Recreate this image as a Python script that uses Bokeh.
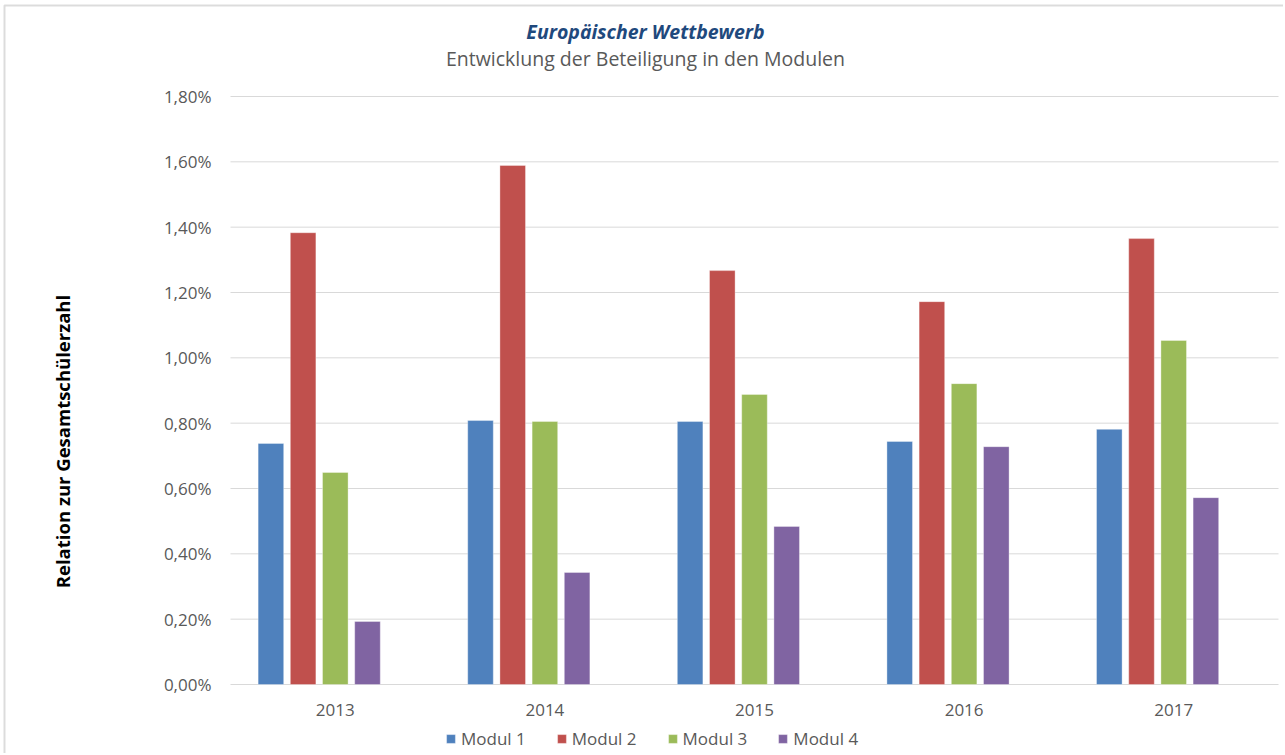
import math
from bokeh.plotting import figure
from bokeh.models import ColumnDataSource, Range1d, Label, Legend, LegendItem, BoxAnnotation
from bokeh.core.properties import value
from bokeh.transform import dodge
from bokeh.embed import file_html
from bokeh.resources import INLINE

years = ["2013", "2014", "2015", "2016", "2017"]
modul_1 = [0.738, 0.808, 0.805, 0.744, 0.781]
modul_2 = [1.383, 1.589, 1.267, 1.172, 1.365]
modul_3 = [0.649, 0.805, 0.888, 0.921, 1.053]
modul_4 = [0.193, 0.343, 0.484, 0.728, 0.572]
series_names = ["Modul 1", "Modul 2", "Modul 3", "Modul 4"]
y_ticks = [0.0, 0.2, 0.4, 0.6, 0.8, 1.0, 1.2, 1.4, 1.6, 1.8]
y_tick_labels = ["0,00%", "0,20%", "0,40%", "0,60%", "0,80%", "1,00%", "1,20%", "1,40%", "1,60%", "1,80%"]

colors = ["#4F81BD", "#C0504D", "#9BBB59", "#8064A2"]
FONT = "Open Sans"
GRAY = "#595959"
GRID = "#D9D9D9"

# ---- layout (pixels) ----
W, H = 1283, 753
PLOT_LEFT, PLOT_RIGHT = 230, 1278      # plot area inside canvas
PLOT_TOP, PLOT_BOTTOM = 96, 684
Y_MAX = 1.8
px_x = (PLOT_RIGHT - PLOT_LEFT) / len(years)
px_y = (PLOT_BOTTOM - PLOT_TOP) / Y_MAX
x_start = -0.5 - PLOT_LEFT / px_x
x_end = len(years) - 0.5 + (W - PLOT_RIGHT) / px_x
y_end = Y_MAX + PLOT_TOP / px_y
y_start = -(H - PLOT_BOTTOM) / px_y

idx = list(range(len(years)))
src = ColumnDataSource(dict(idx=idx, year=years, m1=modul_1, m2=modul_2, m3=modul_3, m4=modul_4))

p = figure(width=W, height=H, x_range=Range1d(x_start, x_end), y_range=Range1d(y_start, y_end),
           output_backend="svg", toolbar_location=None,
           min_border_left=0, min_border_right=0, min_border_top=0, min_border_bottom=0)
p.xaxis.visible = False
p.yaxis.visible = False
p.grid.visible = False
p.outline_line_color = None
p.background_fill_color = "white"
p.border_fill_color = "white"

# chart frame (top and left edges visible, the rest runs off the picture)
p.add_layout(BoxAnnotation(left=x_start + 4 / px_x, right=x_end + 1,
                           top=y_end - 5 / px_y, bottom=y_start - 1,
                           fill_alpha=0, line_color="#8c8c8c", line_width=2))

# grid lines
p.segment(x0=[-0.5] * len(y_ticks), x1=[len(years) - 0.5] * len(y_ticks), y0=y_ticks, y1=y_ticks,
          line_color=GRID, line_width=1)

# bars (5 slots per category in the original; the 5th is empty)
pitch = 0.1536
width = 0.122
renderers = []
for i, (col, c) in enumerate(zip(["m1", "m2", "m3", "m4"], colors)):
    r = p.vbar(x=dodge("idx", (i - 2) * pitch), top=col, bottom=0, width=width,
               source=src, fill_color=c, line_color="white", line_alpha=0.35, line_width=1)
    renderers.append(r)

# y tick labels
p.text(x=[-0.5] * len(y_ticks), y=y_ticks, text=y_tick_labels, x_offset=-19, y_offset=0,
       text_align="right", text_baseline="middle", text_font=value(FONT),
       text_font_size="17px", text_color=GRAY)
# x tick labels
p.text(x=idx, y=[0] * len(years), text=years, y_offset=25,
       text_align="center", text_baseline="alphabetic", text_font=value(FONT),
       text_font_size="17px", text_color=GRAY)

# titles (screen units: origin bottom-left of the canvas)
p.add_layout(Label(x=645, y=H - 31, x_units="screen", y_units="screen",
                   text="Europäischer Wettbewerb", text_font=FONT, text_font_style="bold italic",
                   text_font_size="19.5px", text_color="#1F497D", text_align="center",
                   text_baseline="alphabetic"))
p.add_layout(Label(x=645, y=H - 58, x_units="screen", y_units="screen",
                   text="Entwicklung der Beteiligung in den Modulen", text_font=FONT,
                   text_font_size="19.5px", text_color=GRAY, text_align="center",
                   text_baseline="alphabetic"))
p.add_layout(Label(x=62, y=H - 441, x_units="screen", y_units="screen",
                   text="Relation zur Gesamtschülerzahl", text_font=FONT, text_font_style="bold",
                   text_font_size="18.5px", text_color="black", text_align="center",
                   text_baseline="middle", angle=math.pi / 2))

legend = Legend(items=[LegendItem(label=n, renderers=[r]) for n, r in zip(series_names, renderers)],
                orientation="horizontal", location=(445, 3),
                label_text_font=FONT, label_text_font_size="17px", label_text_color=GRAY,
                glyph_width=11, glyph_height=11, label_standoff=5, spacing=30,
                padding=0, margin=0, border_line_color=None, background_fill_alpha=0)
p.add_layout(legend, "center")

open("out.html", "w").write(file_html(p, INLINE))
